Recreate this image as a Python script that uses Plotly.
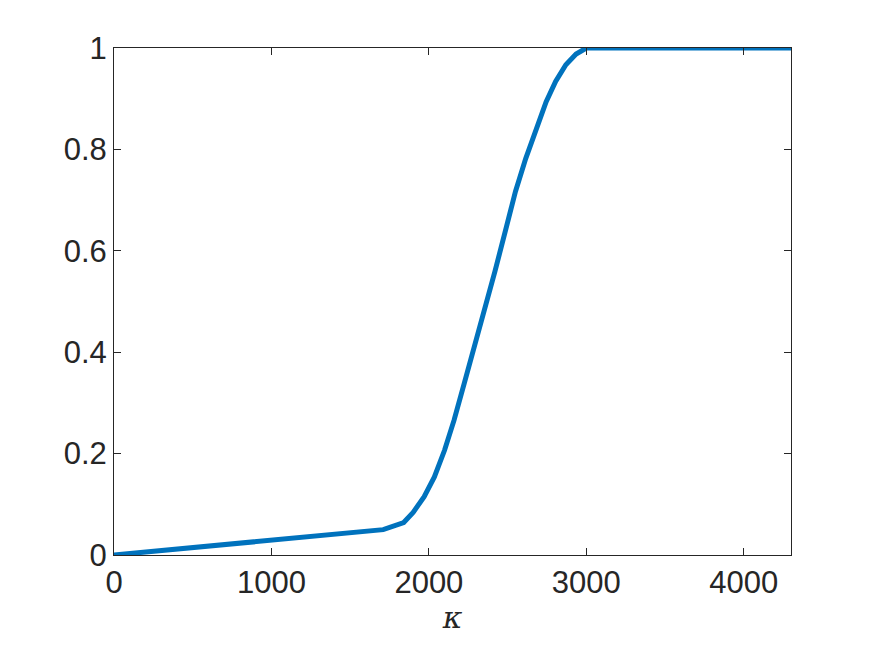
"""
    Courbe en S en fonction de kappa
    """
# imports
from plotly.graph_objects import Scatter, Figure

# donnees
kappa = [0, 1710, 1840, 1900, 1970, 2035, 2100, 2160, 2225, 2290, 2350,
         2420, 2490, 2550, 2615, 2680, 2745, 2805, 2870, 2935, 3000, 4300]
valeurs = [0, 0.05, 0.064, 0.084, 0.115, 0.154, 0.207, 0.266, 0.339, 0.411,
           0.483, 0.56, 0.644, 0.717, 0.782, 0.841, 0.894, 0.934, 0.967,
           0.988, 1.0, 1.0]
x_ticks = [0, 1000, 2000, 3000, 4000]
y_ticks = [0, 0.2, 0.4, 0.6, 0.8, 1]
y_labels = ["0", "0.2", "0.4", "0.6", "0.8", "1"]

GRIS = "#262626"


def main():
    """Main
    """
    fig = Figure()
    fig.add_trace(Scatter(x=kappa, y=valeurs, mode="lines",
                          line={"color": "#0072BD", "width": 5},
                          showlegend=False))

    axe = {
        "showline": True, "linecolor": GRIS, "linewidth": 1,
        "mirror": "ticks", "ticks": "inside", "ticklen": 7,
        "tickcolor": GRIS, "tickwidth": 1, "showgrid": False,
        "zeroline": False,
        "tickfont": {"family": "Liberation Sans", "size": 31, "color": GRIS},
    }
    # la page ajoute 8 px de marge autour de la figure
    fig.update_layout(
        width=875, height=656,
        margin={"l": 106, "r": 92, "t": 40, "b": 109},
        paper_bgcolor="white", plot_bgcolor="white",
        xaxis=dict(axe, range=[0, 4300], tickvals=x_ticks,
                   title={"text": "<i>κ</i>", "standoff": 0,
                          "font": {"family": "DejaVu Serif",
                                   "size": 30, "color": GRIS}}),
        yaxis=dict(axe, range=[0, 1], tickvals=y_ticks, ticktext=y_labels),
    )
    fig.write_html("out.html")


if __name__ == "__main__":
    main()
